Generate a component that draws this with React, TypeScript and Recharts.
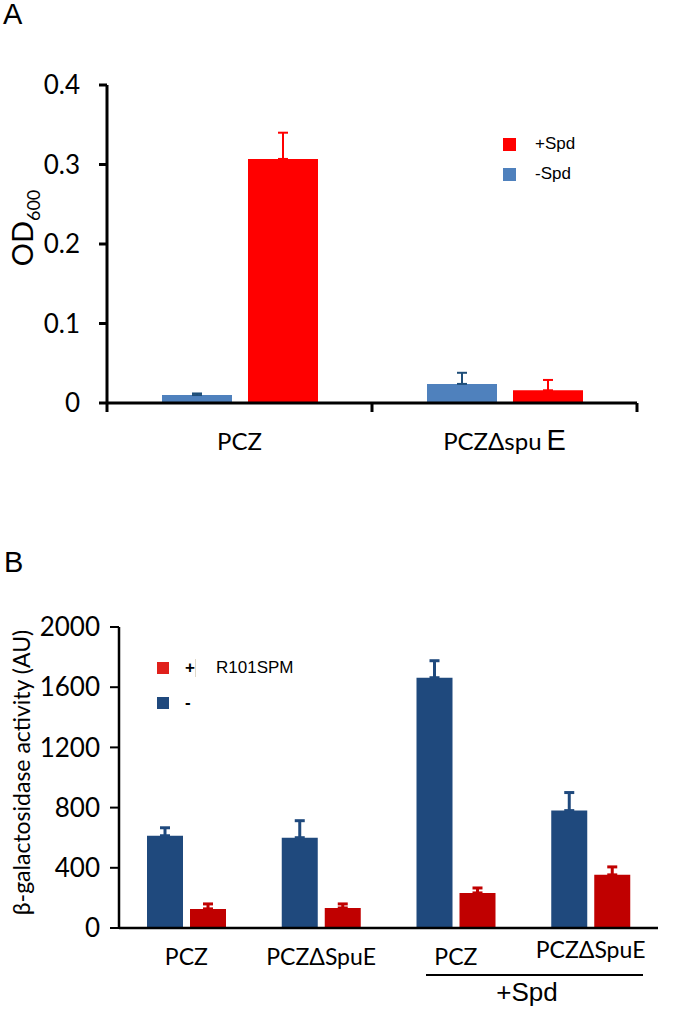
import React from "react";
import { BarChart, Bar, XAxis, YAxis, ErrorBar, Legend } from "recharts";

// Panel A: OD600 with / without spermidine
const strainsA = ["PCZ", "PCZΔspuE"];
const minusSpdA = [0.01, 0.024];
const minusSpdErrA = [0.002, 0.014];
const plusSpdA = [0.307, 0.016];
const plusSpdErrA = [0.033, 0.013];
const ticksA = [0, 0.1, 0.2, 0.3, 0.4];
const legendA = [
  { label: "+Spd", color: "#FF0000" },
  { label: "-Spd", color: "#4F81BD" },
];

// Panel B: beta-galactosidase activity
const strainsB = ["PCZ", "PCZΔSpuE", "PCZ", "PCZΔSpuE"];
const minusB = [613, 600, 1663, 780];
const minusErrB = [53, 113, 113, 120];
const plusB = [127, 133, 233, 353];
const plusErrB = [33, 27, 33, 53];
const ticksB = [0, 400, 800, 1200, 1600, 2000];
const legendB = [
  { sign: "+", label: "R101SPM", color: "#E0201B" },
  { sign: "-", label: "", color: "#1F497D" },
];

const dataA = strainsA.map((strain, i) => ({
  strain,
  minus: minusSpdA[i],
  minusErr: [0, minusSpdErrA[i]],
  plus: plusSpdA[i],
  plusErr: [0, plusSpdErrA[i]],
}));

const dataB = strainsB.map((strain, i) => ({
  strain,
  minus: minusB[i],
  minusErr: [0, minusErrB[i]],
  plus: plusB[i],
  plusErr: [0, plusErrB[i]],
}));

const W = 675;
const tickFont = "Lato, 'Open Sans', sans-serif";
const arial = "'Liberation Sans', Arial, sans-serif";

const marginA = { top: 85, right: 38, bottom: 0, left: 0 };
const yAxisWidthA = 107;
const bandA = (W - marginA.left - marginA.right - yAxisWidthA) / strainsA.length;

const marginB = { top: 67, right: 17, bottom: 0, left: 0 };
const yAxisWidthB = 119;

function TickA(props: any) {
  const { x, y, payload, index } = props;
  const half = bandA / 2;
  const value: string = payload.value;
  const big = value.endsWith("E");
  return (
    <g>
      {index === 0 && (
        <line x1={x - half} x2={x - half} y1={y} y2={y + 9} stroke="#000" strokeWidth={3} />
      )}
      <line x1={x + half} x2={x + half} y1={y} y2={y + 9} stroke="#000" strokeWidth={3} />
      <text x={x} y={y + 47} textAnchor="middle" fontFamily={tickFont} fontSize={24} fill="#000">
        {big ? value.slice(0, -1) : value}
        {big && (
          <tspan dx={5} fontSize={29} fontFamily={arial}>
            E
          </tspan>
        )}
      </text>
    </g>
  );
}

function TickB(props: any) {
  const { x, y, payload, index } = props;
  const lift = index === 3 ? 7 : 0;
  return (
    <text x={x} y={y + 37 - lift} textAnchor="middle" fontFamily={tickFont} fontSize={23} fill="#000">
      {payload.value}
    </text>
  );
}

function OdLabel(props: any) {
  const vb = props.viewBox || {};
  const x = (vb.x ?? 0) + 33;
  const y = (vb.y ?? 85) + (vb.height ?? 318) / 2 - 16;
  return (
    <text transform={`translate(${x},${y}) rotate(-90)`} textAnchor="middle" fontFamily={tickFont} fontSize={29} fill="#000">
      OD
      <tspan fontSize={18} dy={7}>
        600
      </tspan>
    </text>
  );
}

function GalLabel(props: any) {
  const vb = props.viewBox || {};
  const x = (vb.x ?? 0) + 30;
  const y = (vb.y ?? 67) + (vb.height ?? 301) / 2 - 5;
  return (
    <text transform={`translate(${x},${y}) rotate(-90)`} textAnchor="middle" fontFamily={tickFont} fontSize={23} fill="#000">
      β-galactosidase activity (AU)
    </text>
  );
}

function LegendA() {
  return (
    <div style={{ fontFamily: arial, fontSize: 17, color: "#000" }}>
      {legendA.map((item) => (
        <div key={item.label} style={{ display: "flex", alignItems: "center", height: 30 }}>
          <span style={{ display: "inline-block", width: 13, height: 13, background: item.color, marginRight: 19 }} />
          <span>{item.label}</span>
        </div>
      ))}
    </div>
  );
}

function LegendB() {
  return (
    <div style={{ fontFamily: arial, fontSize: 17, color: "#000" }}>
      {legendB.map((item) => (
        <div key={item.sign} style={{ display: "flex", alignItems: "center", height: 35 }}>
          <span style={{ display: "inline-block", width: 12, height: 12, background: item.color, marginRight: 16 }} />
          <span style={{ width: 10, fontWeight: 700 }}>{item.sign}</span>
          {item.label && (
            <>
              <span style={{ display: "inline-block", width: 1, height: 18, background: "#e0d8c8", margin: "0 20px 0 0" }} />
              <span>{item.label}</span>
            </>
          )}
        </div>
      ))}
    </div>
  );
}

export default function App() {
  return (
    <div style={{ position: "absolute", left: 0, top: 0, width: W, height: 1024, background: "#fff" }}>
      <div style={{ position: "absolute", left: 3, top: 0, fontFamily: arial, fontSize: 29, lineHeight: "28px" }}>A</div>
      <div style={{ position: "absolute", left: 4, top: 548, fontFamily: arial, fontSize: 29, lineHeight: "28px" }}>B</div>

      <div style={{ position: "absolute", left: 0, top: 0 }}>
        <BarChart width={W} height={470} data={dataA} margin={marginA} barSize={70} barGap={16}>
          <XAxis
            dataKey="strain"
            tickLine={false}
            tickSize={0}
            tickMargin={0}
            height={67}
            axisLine={{ stroke: "#000", strokeWidth: 3 }}
            tick={<TickA />}
            interval={0}
          />
          <YAxis
            width={yAxisWidthA}
            domain={[0, 0.4]}
            ticks={ticksA}
            tickFormatter={(v: number) => (v === 0 ? "0" : v.toFixed(1))}
            tickSize={8}
            tickMargin={19}
            tickLine={{ stroke: "#000", strokeWidth: 3 }}
            axisLine={{ stroke: "#000", strokeWidth: 3 }}
            tick={{ fontFamily: tickFont, fontSize: 26, fill: "#000" }}
            label={<OdLabel />}
          />
          <Legend
            layout="horizontal"
            verticalAlign="middle"
            align="center"
            content={<LegendA />}
            wrapperStyle={{ left: 503, top: 129, width: 120 }}
          />
          <Bar dataKey="minus" name="-Spd" fill="#4F81BD" isAnimationActive={false}>
            <ErrorBar dataKey="minusErr" direction="y" width={5} stroke="#1F4E79" strokeWidth={2} isAnimationActive={false} />
          </Bar>
          <Bar dataKey="plus" name="+Spd" fill="#FF0000" isAnimationActive={false}>
            <ErrorBar dataKey="plusErr" direction="y" width={5} stroke="#FF0000" strokeWidth={2} isAnimationActive={false} />
          </Bar>
        </BarChart>
      </div>

      <div style={{ position: "absolute", left: 0, top: 560 }}>
        <BarChart width={W} height={420} data={dataB} margin={marginB} barSize={36} barGap={7}>
          <XAxis
            dataKey="strain"
            tickLine={false}
            tickSize={0}
            tickMargin={0}
            height={52}
            axisLine={{ stroke: "#000", strokeWidth: 2.5 }}
            tick={<TickB />}
            interval={0}
          />
          <YAxis
            width={yAxisWidthB}
            domain={[0, 2000]}
            ticks={ticksB}
            tickSize={9}
            tickMargin={10}
            tickLine={{ stroke: "#000", strokeWidth: 2 }}
            axisLine={{ stroke: "#000", strokeWidth: 2.5 }}
            tick={{ fontFamily: tickFont, fontSize: 26, fill: "#000" }}
            label={<GalLabel />}
          />
          <Legend
            layout="horizontal"
            verticalAlign="middle"
            align="center"
            content={<LegendB />}
            wrapperStyle={{ left: 157, top: 90, width: 200 }}
          />
          <Bar dataKey="minus" name="-" fill="#1F497D" isAnimationActive={false}>
            <ErrorBar dataKey="minusErr" direction="y" width={5} stroke="#1F497D" strokeWidth={3} isAnimationActive={false} />
          </Bar>
          <Bar dataKey="plus" name="+ R101SPM" fill="#C00000" isAnimationActive={false}>
            <ErrorBar dataKey="plusErr" direction="y" width={5} stroke="#C00000" strokeWidth={3} isAnimationActive={false} />
          </Bar>
        </BarChart>
      </div>

      {/* +Spd grouping under the last two strains */}
      <div style={{ position: "absolute", left: 426, top: 974, width: 217, borderTop: "2px solid #000" }} />
      <div
        style={{
          position: "absolute",
          left: 426,
          top: 976,
          width: 202,
          textAlign: "center",
          fontFamily: arial,
          fontSize: 26,
          lineHeight: "32px",
        }}
      >
        +Spd
      </div>
    </div>
  );
}
